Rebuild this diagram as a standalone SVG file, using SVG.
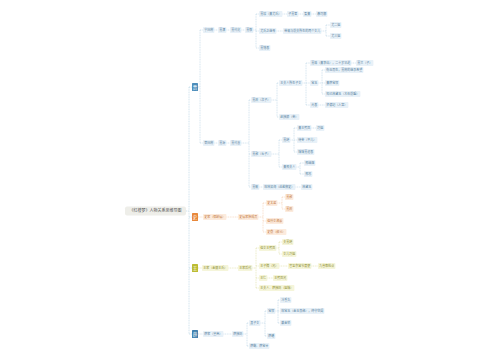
<svg xmlns="http://www.w3.org/2000/svg" width="500" height="360" viewBox="0 0 500 360">
<style>
text{font-family:"Noto Sans CJK SC","Noto Sans",sans-serif;font-size:3px}
.b rect{fill:#e8f1f8}.b text{fill:#5a84a2}
.o rect{fill:#fcebdd}.o text{fill:#c47a42}
.y rect{fill:#f5f5da}.y text{fill:#8e8e2e}
.sq text{fill:#fff;font-size:4.5px;text-anchor:middle}
.sqb rect{fill:#4d8dbb}.sqo rect{fill:#e8873a}.sqy rect{fill:#bcbc32}.sqx rect{fill:#3f7fae}
.root rect{fill:#eeeee9}.root text{fill:#555;font-size:4px;text-anchor:middle}
#connectors path{fill:none;stroke-width:0.5;stroke-dasharray:1 0.7}
.cb{stroke:#a9c9de}.co{stroke:#f0bf98}.cy{stroke:#d6d68c}.ct{stroke:#9fc4db}
</style>
<rect width="500" height="360" fill="#fff"/>
<g id="connectors">
<path class="ct" d="M189 87V334M186 211H189M189 87H192M189 217H192M189 268H192M189 334H192"/>
<path class="cb" d="M198 87H200M200 30V143M200 30H203M200 143H203M214.4 30H218M226.4 30H230M241.4 30H245M253.4 30H256M256 14V48M256 14H259M256 31H259M256 48H259M282.4 14H287M298.4 14H303M311.4 14H316M276.4 31H283M321.4 31H326M326 25V36M326 25H330M326 36H330M214.4 143H218M226.4 143H230M241.4 143H249M249 100V187M249 100H251M249 154H251M249 187H251M271.4 100H277M277 83V117M277 83H279M277 117H279M302.4 83H306M306 63V105M306 63H310M306 83H310M306 105H310M351.4 63H356M318.4 83H322M322 70V94M322 70H325M322 83H325M322 94H325M318.4 105H325M271.4 154H279M279 140V167M279 140H282M279 167H282M290.4 140H294M294 128V152M294 128H297M294 140H297M294 152H297M311.4 128H316M296.4 167H300M300 163V174M300 163H304M300 174H304M259.4 187H263M295.4 187H301"/>
<path class="co" d="M198 217H203M226.4 217H238M258.4 217H263M263 203V232M263 203H266M263 221H266M263 232H266M277.4 203H282M282 197V209M282 197H285M282 209H285"/>
<path class="cy" d="M198 268H202M228.4 268H238M252.4 268H256M256 248V288M256 248H259M256 266H259M256 278H259M256 288H259M276.4 248H279M279 242V254M279 242H282M279 254H282M279.4 266H288M311.4 266H318M267.4 278H273"/>
<path class="cb" d="M198 334H203M223.4 334H232M243.4 334H247M247 323V346M247 323H249M247 346H249M260.4 323H265M265 311V336M265 311H267M265 336H267M275.4 311H278M278 300V323M278 300H280M278 311H280M278 323H280"/>
</g>
<g id="root" class="root"><rect x="125" y="206.5" width="61" height="9" rx="2"/><text x="155.5" y="212.4">《红楼梦》人物关系思维导图</text></g>
<g id="jia" class="sq sqb"><rect x="192" y="83" width="6" height="8" rx="0.6"/><text x="195" y="88.6">贾</text></g>
<g id="shi" class="sq sqo"><rect x="192" y="213" width="6" height="8" rx="0.6"/><text x="195" y="218.6">史</text></g>
<g id="wang" class="sq sqy"><rect x="192" y="264" width="6" height="8" rx="0.6"/><text x="195" y="269.6">王</text></g>
<g id="xue" class="sq sqx"><rect x="192" y="330" width="6" height="8" rx="0.6"/><text x="195" y="335.6">薛</text></g>
<g class="b">
<g id="n1"><rect x="203" y="27" width="11.4" height="6" rx="0.8"/><text x="204.2" y="31.05">宁国府</text></g>
<g id="n2"><rect x="218" y="27" width="8.4" height="6" rx="0.8"/><text x="219.2" y="31.05">贾演</text></g>
<g id="n3"><rect x="230" y="27" width="11.4" height="6" rx="0.8"/><text x="231.2" y="31.05">贾代化</text></g>
<g id="n4"><rect x="245" y="27" width="8.4" height="6" rx="0.8"/><text x="246.2" y="31.05">贾敬</text></g>
<g id="n5"><rect x="259" y="11" width="23.4" height="6" rx="0.8"/><text x="260.2" y="15.05">贾珍（妻尤氏）</text></g>
<g id="n6"><rect x="287" y="11" width="11.4" height="6" rx="0.8"/><text x="288.2" y="15.05">子贾蓉</text></g>
<g id="n7"><rect x="303" y="11" width="8.4" height="6" rx="0.8"/><text x="304.2" y="15.05">娶妻</text></g>
<g id="n8"><rect x="316" y="11" width="11.4" height="6" rx="0.8"/><text x="317.2" y="15.05">秦可卿</text></g>
<g id="n9"><rect x="259" y="28" width="17.4" height="6" rx="0.8"/><text x="260.2" y="32.05">尤氏之继母</text></g>
<g id="n10"><rect x="283" y="28" width="38.4" height="6" rx="0.8"/><text x="284.2" y="32.05">带来与前夫所生的两个女儿</text></g>
<g id="n11"><rect x="330" y="22" width="11.4" height="6" rx="0.8"/><text x="331.2" y="26.05">尤二姐</text></g>
<g id="n12"><rect x="330" y="33" width="11.4" height="6" rx="0.8"/><text x="331.2" y="37.05">尤三姐</text></g>
<g id="n13"><rect x="259" y="45" width="11.4" height="6" rx="0.8"/><text x="260.2" y="49.05">贾惜春</text></g>
<g id="n14"><rect x="203" y="140" width="11.4" height="6" rx="0.8"/><text x="204.2" y="144.05">荣国府</text></g>
<g id="n15"><rect x="218" y="140" width="8.4" height="6" rx="0.8"/><text x="219.2" y="144.05">贾源</text></g>
<g id="n16"><rect x="230" y="140" width="11.4" height="6" rx="0.8"/><text x="231.2" y="144.05">贾代善</text></g>
<g id="n17"><rect x="251" y="97" width="20.4" height="6" rx="0.8"/><text x="252.2" y="101.05">贾政（次子）</text></g>
<g id="n18"><rect x="279" y="80" width="23.4" height="6" rx="0.8"/><text x="280.2" y="84.05">王夫人所生子女</text></g>
<g id="n19"><rect x="310" y="60" width="41.4" height="6" rx="0.8"/><text x="311.2" y="64.05">贾珠（妻李纨），二十岁早逝</text></g>
<g id="n20"><rect x="356" y="60" width="17.4" height="6" rx="0.8"/><text x="357.2" y="64.05">贾兰（子）</text></g>
<g id="n21"><rect x="310" y="80" width="8.4" height="6" rx="0.8"/><text x="311.2" y="84.05">宝玉</text></g>
<g id="n22"><rect x="325" y="67" width="38.4" height="6" rx="0.8"/><text x="326.2" y="71.05">衔玉而生，贾府的继承希望</text></g>
<g id="n23"><rect x="325" y="80" width="14.4" height="6" rx="0.8"/><text x="326.2" y="84.05">妻薛宝钗</text></g>
<g id="n24"><rect x="325" y="91" width="35.4" height="6" rx="0.8"/><text x="326.2" y="95.05">知己林黛玉（木石前盟）</text></g>
<g id="n25"><rect x="310" y="102" width="8.4" height="6" rx="0.8"/><text x="311.2" y="106.05">元春</text></g>
<g id="n26"><rect x="325" y="102" width="23.4" height="6" rx="0.8"/><text x="326.2" y="106.05">贤德妃（入宫）</text></g>
<g id="n27"><rect x="279" y="114" width="20.4" height="6" rx="0.8"/><text x="280.2" y="118.05">赵姨娘（妾）</text></g>
<g id="n28"><rect x="251" y="151" width="20.4" height="6" rx="0.8"/><text x="252.2" y="155.05">贾赦（长子）</text></g>
<g id="n29"><rect x="282" y="137" width="8.4" height="6" rx="0.8"/><text x="283.2" y="141.05">贾琏</text></g>
<g id="n30"><rect x="297" y="125" width="14.4" height="6" rx="0.8"/><text x="298.2" y="129.05">妻王熙凤</text></g>
<g id="n31"><rect x="316" y="125" width="8.4" height="6" rx="0.8"/><text x="317.2" y="129.05">巧姐</text></g>
<g id="n32"><rect x="297" y="137" width="20.4" height="6" rx="0.8"/><text x="298.2" y="141.05">侍妾（平儿）</text></g>
<g id="n33"><rect x="297" y="149" width="17.4" height="6" rx="0.8"/><text x="298.2" y="153.05">妹妹贾迎春</text></g>
<g id="n34"><rect x="282" y="164" width="14.4" height="6" rx="0.8"/><text x="283.2" y="168.05">妻邢夫人</text></g>
<g id="n35"><rect x="304" y="160" width="11.4" height="6" rx="0.8"/><text x="305.2" y="164.05">邢岫烟</text></g>
<g id="n36"><rect x="304" y="171" width="8.4" height="6" rx="0.8"/><text x="305.2" y="175.05">邢忠</text></g>
<g id="n37"><rect x="251" y="184" width="8.4" height="6" rx="0.8"/><text x="252.2" y="188.05">贾敏</text></g>
<g id="n38"><rect x="263" y="184" width="32.4" height="6" rx="0.8"/><text x="264.2" y="188.05">嫁林如海（巡盐御史）</text></g>
<g id="n39"><rect x="301" y="184" width="11.4" height="6" rx="0.8"/><text x="302.2" y="188.05">林黛玉</text></g>
</g>
<g class="o">
<g id="s1"><rect x="203" y="214" width="23.4" height="6" rx="0.8"/><text x="204.2" y="218.05">史家（保龄侯）</text></g>
<g id="s2"><rect x="238" y="214" width="20.4" height="6" rx="0.8"/><text x="239.2" y="218.05">史侯家族成员</text></g>
<g id="s3"><rect x="266" y="200" width="11.4" height="6" rx="0.8"/><text x="267.2" y="204.05">史太君</text></g>
<g id="s4"><rect x="285" y="194" width="8.4" height="6" rx="0.8"/><text x="286.2" y="198.05">贾赦</text></g>
<g id="s5"><rect x="285" y="206" width="8.4" height="6" rx="0.8"/><text x="286.2" y="210.05">贾政</text></g>
<g id="s6"><rect x="266" y="218" width="17.4" height="6" rx="0.8"/><text x="267.2" y="222.05">侄孙女湘云</text></g>
<g id="s7"><rect x="266" y="229" width="20.4" height="6" rx="0.8"/><text x="267.2" y="233.05">史鼎（叔父）</text></g>
</g>
<g class="y">
<g id="w1"><rect x="202" y="265" width="26.4" height="6" rx="0.8"/><text x="203.2" y="269.05">王家（金陵王氏）</text></g>
<g id="w2"><rect x="238" y="265" width="14.4" height="6" rx="0.8"/><text x="239.2" y="269.05">王家后代</text></g>
<g id="w3"><rect x="259" y="245" width="17.4" height="6" rx="0.8"/><text x="260.2" y="249.05">侄女王熙凤</text></g>
<g id="w4"><rect x="282" y="239" width="11.4" height="6" rx="0.8"/><text x="283.2" y="243.05">夫贾琏</text></g>
<g id="w5"><rect x="282" y="251" width="14.4" height="6" rx="0.8"/><text x="283.2" y="255.05">女儿巧姐</text></g>
<g id="w6"><rect x="259" y="263" width="20.4" height="6" rx="0.8"/><text x="260.2" y="267.05">王子腾（兄）</text></g>
<g id="w7"><rect x="288" y="263" width="23.4" height="6" rx="0.8"/><text x="289.2" y="267.05">官至京营节度使</text></g>
<g id="w8"><rect x="318" y="263" width="17.4" height="6" rx="0.8"/><text x="319.2" y="267.05">九省都检点</text></g>
<g id="w9"><rect x="259" y="275" width="8.4" height="6" rx="0.8"/><text x="260.2" y="279.05">王仁</text></g>
<g id="w10"><rect x="273" y="275" width="14.4" height="6" rx="0.8"/><text x="274.2" y="279.05">王熙凤兄</text></g>
<g id="w11"><rect x="259" y="285" width="35.4" height="6" rx="0.8"/><text x="260.2" y="289.05">王夫人、薛姨妈（姐妹）</text></g>
</g>
<g class="b">
<g id="x1"><rect x="203" y="331" width="20.4" height="6" rx="0.8"/><text x="204.2" y="335.05">薛家（皇商）</text></g>
<g id="x2"><rect x="232" y="331" width="11.4" height="6" rx="0.8"/><text x="233.2" y="335.05">薛姨妈</text></g>
<g id="x3"><rect x="249" y="320" width="11.4" height="6" rx="0.8"/><text x="250.2" y="324.05">其子女</text></g>
<g id="x4"><rect x="267" y="308" width="8.4" height="6" rx="0.8"/><text x="268.2" y="312.05">宝钗</text></g>
<g id="x5"><rect x="280" y="297" width="11.4" height="6" rx="0.8"/><text x="281.2" y="301.05">冷香丸</text></g>
<g id="x6"><rect x="280" y="308" width="44.4" height="6" rx="0.8"/><text x="281.2" y="312.05">嫁宝玉（金玉良缘），终守空闺</text></g>
<g id="x7"><rect x="280" y="320" width="11.4" height="6" rx="0.8"/><text x="281.2" y="324.05">戴金锁</text></g>
<g id="x8"><rect x="267" y="333" width="8.4" height="6" rx="0.8"/><text x="268.2" y="337.05">薛蟠</text></g>
<g id="x9"><rect x="249" y="343" width="20.4" height="6" rx="0.8"/><text x="250.2" y="347.05">薛蝌、薛宝琴</text></g>
</g>
</svg>
